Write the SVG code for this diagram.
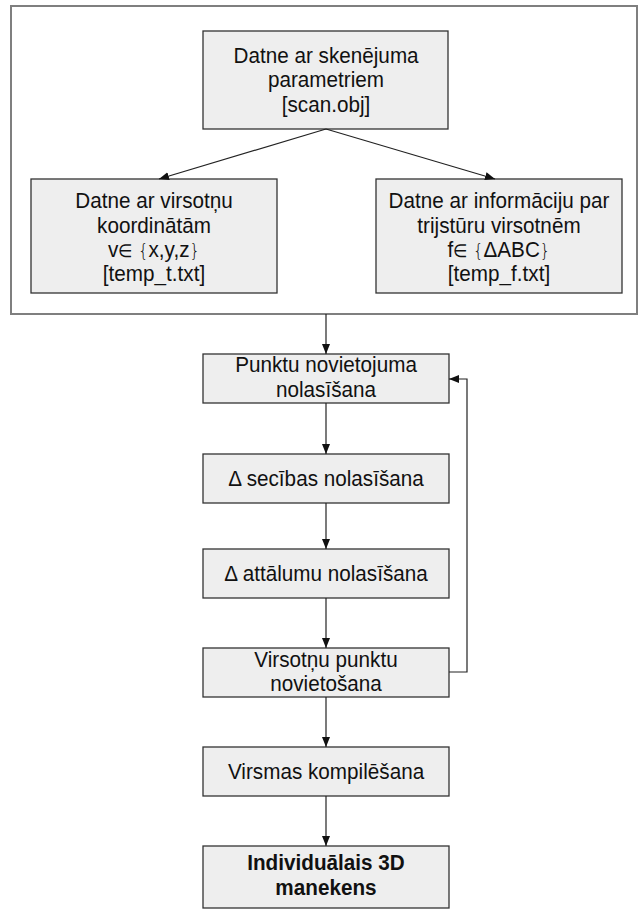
<svg xmlns="http://www.w3.org/2000/svg" width="640" height="911" viewBox="0 0 640 911">
<style>
.box{fill:#eeeeee;stroke:#333333;stroke-width:1.3}
.frame{fill:#ffffff;stroke:#7f7f7f;stroke-width:2}
.t{font-family:"Liberation Sans",Arial,sans-serif;font-size:22.5px;fill:#111111;text-anchor:middle;transform-box:fill-box;transform-origin:center;transform:scaleX(0.92)}
.b{font-weight:bold}
.sym{font-family:"DejaVu Sans",sans-serif;font-size:18px;font-weight:300}
.c{fill:none;stroke:#222222;stroke-width:1.2}
</style>
<defs>
<marker id="ah" markerUnits="userSpaceOnUse" markerWidth="10" markerHeight="10" viewBox="0 0 10 10" refX="10" refY="5" orient="auto">
<path d="M0,1 L10,5 L0,9 Z" fill="#111111"/>
</marker>
</defs>
<rect id="frame" class="frame" x="11" y="6" width="626" height="308"/>
<g id="n1"><rect class="box" x="203" y="31" width="245" height="98"/>
<text class="t" x="326" y="63">Datne ar skenējuma</text>
<text class="t" x="326" y="87">parametriem</text>
<text class="t" x="326" y="112">[scan.obj]</text></g>
<g id="n2"><rect class="box" x="31" y="179" width="246" height="114"/>
<text class="t" x="154" y="208">Datne ar virsotņu</text>
<text class="t" x="154" y="233">koordinātām</text>
<text class="t" x="154" y="257">v<tspan class="sym">∈ {</tspan>x,y,z<tspan class="sym">}</tspan></text>
<text class="t" x="154" y="281">[temp_t.txt]</text></g>
<g id="n3"><rect class="box" x="376" y="179" width="246" height="114"/>
<text class="t" x="499" y="208">Datne ar informāciju par</text>
<text class="t" x="499" y="233">trijstūru virsotnēm</text>
<text class="t" x="499" y="257">f<tspan class="sym">∈ {</tspan>ΔABC<tspan class="sym">}</tspan></text>
<text class="t" x="499" y="281">[temp_f.txt]</text></g>
<g id="n4"><rect class="box" x="203" y="354" width="246" height="49"/>
<text class="t" x="326" y="372">Punktu novietojuma</text>
<text class="t" x="326" y="397">nolasīšana</text></g>
<g id="n5"><rect class="box" x="203" y="454" width="246" height="49"/>
<text class="t" x="326" y="486">Δ secības nolasīšana</text></g>
<g id="n6"><rect class="box" x="203" y="549" width="246" height="49"/>
<text class="t" x="326" y="581">Δ attālumu nolasīšana</text></g>
<g id="n7"><rect class="box" x="203" y="648" width="246" height="49"/>
<text class="t" x="326" y="667">Virsotņu punktu</text>
<text class="t" x="326" y="691">novietošana</text></g>
<g id="n8"><rect class="box" x="203" y="747" width="246" height="49"/>
<text class="t" x="326" y="779">Virsmas kompilēšana</text></g>
<g id="n9"><rect class="box" x="203" y="846" width="246" height="62"/>
<text class="t b" x="326" y="870">Individuālais 3D</text>
<text class="t b" x="326" y="895">manekens</text></g>
<g id="connectors">
<path class="c" d="M326,129 L159,179" marker-end="url(#ah)"/>
<path class="c" d="M326,129 L495,179" marker-end="url(#ah)"/>
<path class="c" d="M326,314 L326,354" marker-end="url(#ah)"/>
<path class="c" d="M326,403 L326,454" marker-end="url(#ah)"/>
<path class="c" d="M326,503 L326,549" marker-end="url(#ah)"/>
<path class="c" d="M326,598 L326,648" marker-end="url(#ah)"/>
<path class="c" d="M326,697 L326,747" marker-end="url(#ah)"/>
<path class="c" d="M326,796 L326,846" marker-end="url(#ah)"/>
<path class="c" d="M449,672 L467,672 L467,379 L449,379" marker-end="url(#ah)"/>
</g>
</svg>
